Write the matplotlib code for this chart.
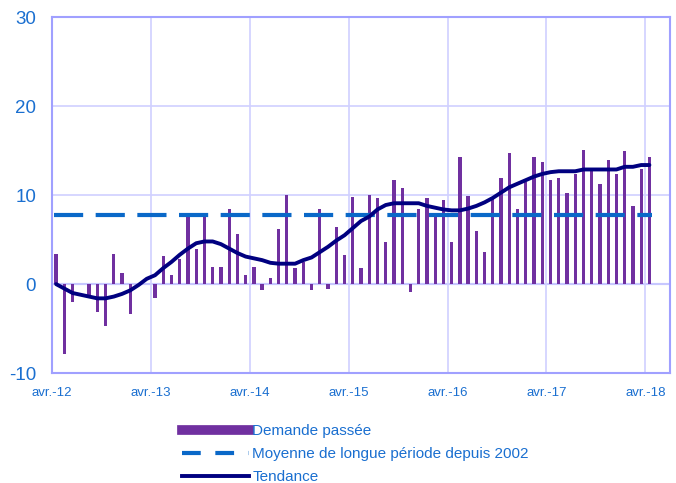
import matplotlib
matplotlib.use('Agg')
import matplotlib.pyplot as plt
from matplotlib.lines import Line2D
import numpy as np

plt.rcParams['font.family'] = ['Liberation Sans', 'DejaVu Sans']

# monthly data, avr.-12 .. avr.-18
demande = [3.4, -7.9, -2.0, 0.0, -1.6, -3.1, -4.7, 3.4, 1.2, -3.4, 0.0, 0.0,
           -1.6, 3.2, 1.0, 2.8, 7.8, 3.9, 7.9, 1.9, 1.9, 8.5, 5.6, 1.0,
           1.9, -0.7, 0.7, 6.2, 10.0, 1.8, 2.5, -0.7, 8.4, -0.5, 6.4, 3.3,
           9.8, 1.8, 10.0, 9.7, 4.7, 11.7, 10.8, -0.9, 8.5, 9.7, 7.6, 9.5,
           4.7, 14.3, 9.9, 6.0, 3.6, 9.6, 11.9, 14.8, 8.5, 11.5, 14.3, 13.7,
           11.7, 11.9, 10.2, 12.4, 15.1, 12.7, 11.3, 14.0, 12.4, 15.0, 8.8, 12.9,
           14.3]
tendance = [0.0, -0.5, -1.0, -1.2, -1.4, -1.6, -1.6, -1.4, -1.1, -0.7, -0.1, 0.6,
            1.0, 1.8, 2.5, 3.3, 4.0, 4.6, 4.8, 4.8, 4.5, 4.0, 3.5, 3.1,
            2.9, 2.7, 2.4, 2.3, 2.3, 2.3, 2.7, 3.0, 3.6, 4.2, 4.9, 5.5,
            6.3, 7.1, 7.6, 8.4, 8.9, 9.1, 9.1, 9.1, 9.1, 8.8, 8.6, 8.4,
            8.3, 8.3, 8.5, 8.8, 9.2, 9.7, 10.3, 10.9, 11.3, 11.7, 12.1, 12.4,
            12.6, 12.7, 12.7, 12.7, 12.9, 12.9, 12.9, 12.9, 12.9, 13.2, 13.2, 13.4,
            13.4]
moyenne = 7.8
tick_labels = ['avr.-12', 'avr.-13', 'avr.-14', 'avr.-15', 'avr.-16', 'avr.-17', 'avr.-18']

blue_txt = '#1a6fd0'
purple = '#7030a0'
navy = '#000080'
dash_blue = '#0a68c8'
frame = '#a0a0ff'
grid = '#d0d0ff'

fig = plt.figure(figsize=(6.76, 4.83), dpi=100)
ax = fig.add_axes([52 / 676, 110 / 483, 618 / 676, 355.5 / 483])

x = np.arange(len(demande)) + 0.5
ax.bar(x, demande, width=0.4, color=purple, zorder=3)
ax.plot([0.3, len(demande) - 0.2], [moyenne, moyenne], color=dash_blue, lw=3,
         dashes=(7.0, 3.0), zorder=4)
ax.plot(x, tendance, color=navy, lw=2.8, zorder=5, solid_capstyle='round')

ax.set_xlim(0, 75)
ax.set_ylim(-10, 30)
ax.set_xticks(np.arange(0, 73, 12))
ax.set_xticklabels(tick_labels, fontsize=9.5, color=blue_txt)
ax.set_yticks([-10, 0, 10, 20, 30])
ax.set_yticklabels(['-10', '0', '10', '20', '30'], fontsize=13.5, color=blue_txt)
ax.tick_params(axis='both', length=0)
ax.tick_params(axis='y', pad=11.5)
ax.tick_params(axis='x', pad=10)

ax.grid(True, color=grid, lw=1.2, zorder=0)
ax.axhline(0, color=frame, lw=1.5, zorder=1)
for s in ax.spines.values():
    s.set_color(frame)
    s.set_linewidth(1.5)

handles = [Line2D([0], [0], color=purple, lw=7),
           Line2D([0], [0], color=dash_blue, lw=3, dashes=(4.5, 3.5)),
           Line2D([0], [0], color=navy, lw=2.8)]
labels = ['Demande passée', 'Moyenne de longue période depuis 2002', 'Tendance']
leg = fig.legend(handles, labels, loc='upper left', bbox_to_anchor=(176 / 676, 1 - 418 / 483),
                 frameon=False, fontsize=11, handlelength=4.4, handletextpad=0.2,
                 labelspacing=0.6, borderaxespad=0)
for t in leg.get_texts():
    t.set_color(blue_txt)

plt.savefig('out.png', dpi=100)
plt.close()
